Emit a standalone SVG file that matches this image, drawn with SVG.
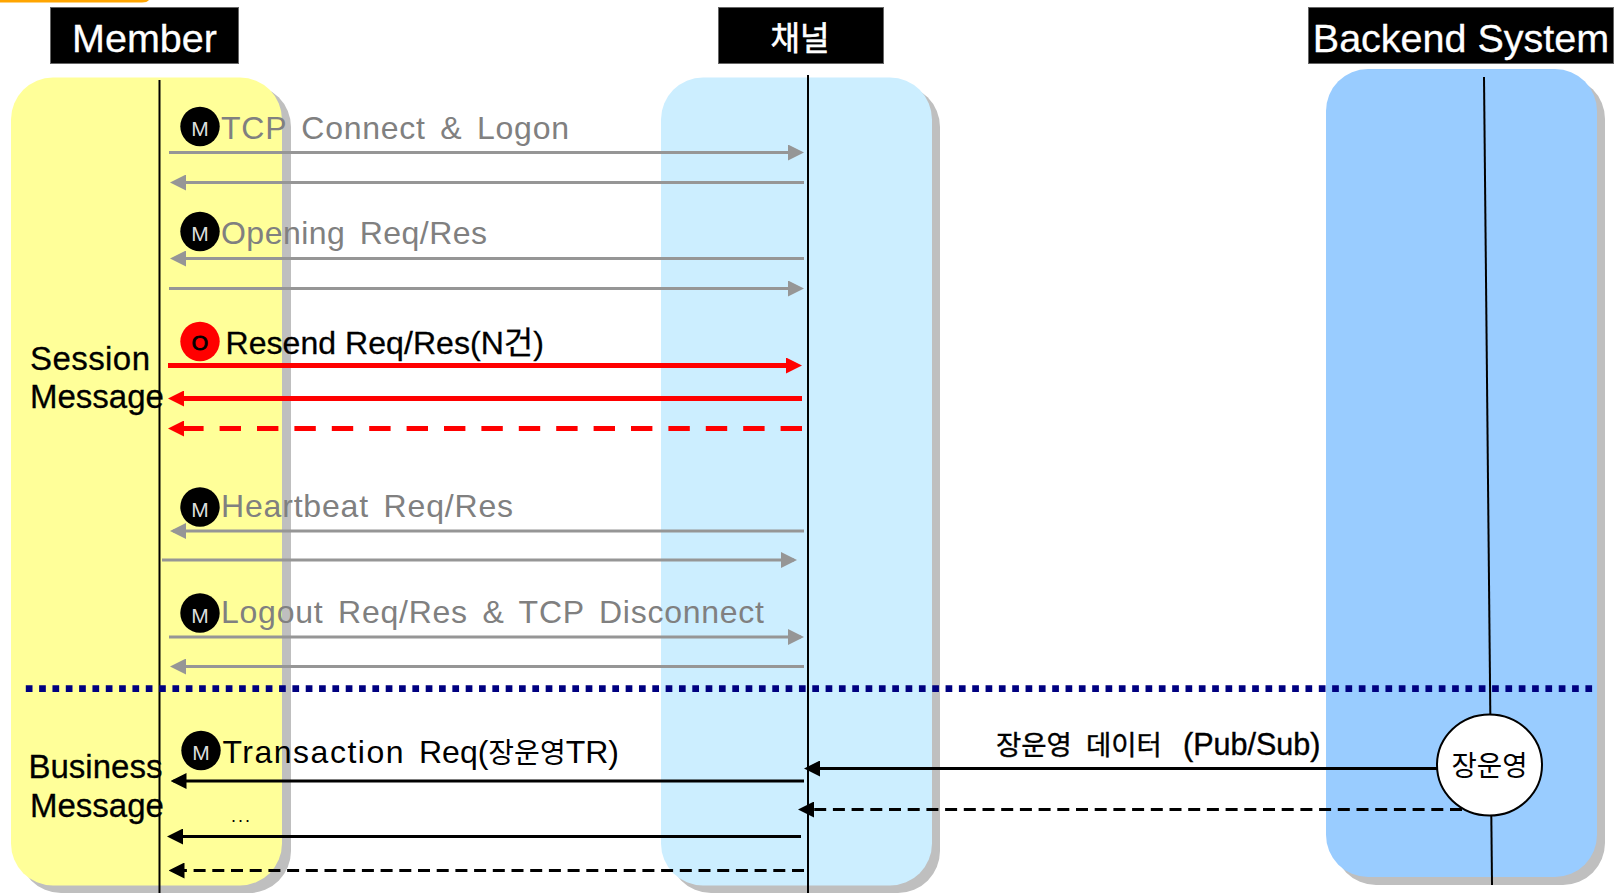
<svg xmlns="http://www.w3.org/2000/svg" width="1622" height="893" viewBox="0 0 1622 893">
<defs>
<marker id="ag" markerUnits="userSpaceOnUse" markerWidth="16" markerHeight="16" refX="13" refY="8" orient="auto"><path d="M0 0L16 8L0 16z" fill="#969696"/></marker>
<marker id="ak" markerUnits="userSpaceOnUse" markerWidth="16" markerHeight="16" refX="13" refY="8" orient="auto"><path d="M0 0L16 8L0 16z" fill="#000"/></marker>
<marker id="ar" markerUnits="userSpaceOnUse" markerWidth="16" markerHeight="16" refX="11" refY="8" orient="auto"><path d="M0 0L16 8L0 16z" fill="#f00"/></marker>
</defs>
<style>
text{font-family:"Liberation Sans","Noto Sans CJK KR",sans-serif}
.hd{fill:#000;stroke:#666;stroke-width:1}
.ht{fill:#fff;font-size:39.500px;text-anchor:middle;stroke:#fff;stroke-width:.3px}
.sh{fill:#bfbfbf}
.gl{stroke:#969696;stroke-width:3;fill:none;marker-end:url(#ag)}
.kl{stroke:#000;stroke-width:3;fill:none;marker-end:url(#ak)}
.rl{stroke:#f00;stroke-width:5;fill:none;marker-end:url(#ar)}
.ll{stroke:#000;stroke-width:2;fill:none}
.gt{fill:#808080;font-size:32px;word-spacing:5px}
.kt{fill:#000;font-size:32px}
.lb{fill:#000;font-size:33px;stroke:#000;stroke-width:.3px}
.mt{fill:#ddd;font-size:21px;text-anchor:middle}
</style>
<path d="M0 0V2.500H142Q147 2.500 149 0z" fill="#ffa500"/>

<g id="panel-member"><rect class="sh" x="19" y="85" width="272" height="808" rx="42"/><rect x="11" y="77.500" width="271" height="808" rx="42" fill="#ffff99"/></g>
<g id="panel-channel"><rect class="sh" x="669" y="85" width="271" height="808" rx="42"/><rect x="661" y="77.500" width="271" height="808" rx="42" fill="#cceeff"/></g>
<g id="panel-backend"><rect class="sh" x="1334" y="77" width="271" height="808" rx="42"/><rect x="1326" y="69" width="271" height="808" rx="42" fill="#99ccff"/></g>

<g id="head-member"><rect class="hd" x="50.500" y="7.500" width="188" height="56"/><text class="ht" x="144.500" y="52">Member</text></g>
<g id="head-channel"><rect class="hd" x="718.500" y="7.500" width="165" height="56"/><text class="ht" x="800" y="50" style="font-size:33px;stroke-width:.6px" textLength="59" lengthAdjust="spacingAndGlyphs">채널</text></g>
<g id="head-backend"><rect class="hd" x="1308.500" y="7.500" width="305" height="56"/><text class="ht" x="1461" y="52">Backend System</text></g>

<g id="lifelines">
<line class="ll" x1="159.500" y1="80" x2="159.500" y2="893"/>
<line class="ll" x1="808" y1="75" x2="808" y2="893" stroke-width="2.500"/>
<line class="ll" x1="1484" y1="77" x2="1492" y2="885"/>
</g>

<g id="connectors">
<line class="gl" x1="169" y1="152.500" x2="801" y2="152.500"/>
<line class="gl" x1="804" y1="182.500" x2="173" y2="182.500"/>
<line class="gl" x1="804" y1="258.500" x2="173" y2="258.500"/>
<line class="gl" x1="169" y1="288.500" x2="801" y2="288.500"/>
<line class="rl" x1="168" y1="365.500" x2="797" y2="365.500"/>
<line class="rl" x1="802" y1="398.500" x2="173" y2="398.500"/>
<line class="rl" x1="802" y1="428.500" x2="173" y2="428.500" stroke-dasharray="21.400 16"/>
<line class="gl" x1="804" y1="531" x2="173" y2="531"/>
<line class="gl" x1="162" y1="560" x2="794" y2="560"/>
<line class="gl" x1="169" y1="637" x2="801" y2="637"/>
<line class="gl" x1="804" y1="666.500" x2="173" y2="666.500"/>
<line x1="25.800" y1="688.700" x2="1593" y2="688.700" stroke="#000080" stroke-width="6.700" stroke-dasharray="6.700 6.630"/>
<line class="kl" x1="804" y1="781" x2="173.500" y2="781"/>
<line class="kl" x1="801" y1="836.500" x2="170" y2="836.500"/>
<line class="kl" x1="804" y1="870.500" x2="171.500" y2="870.500" stroke-dasharray="12 6.700"/>
<line class="kl" x1="1437" y1="768.500" x2="807" y2="768.500"/>
<line class="kl" x1="1462" y1="809.500" x2="801" y2="809.500" stroke-dasharray="12 6.700"/>
</g>

<g id="msg-tcp"><circle cx="200" cy="126.500" r="19.700"/><text class="mt" x="200" y="136">M</text><text class="gt" x="221" y="139" textLength="348" lengthAdjust="spacing">TCP Connect &amp; Logon</text></g>
<g id="msg-opening"><circle cx="200" cy="231.500" r="19.700"/><text class="mt" x="200" y="241">M</text><text class="gt" x="221" y="244" textLength="266" lengthAdjust="spacing">Opening Req/Res</text></g>
<g id="msg-resend"><circle cx="200" cy="341.500" r="19.700" fill="#f00"/><text x="200" y="350" font-size="21" text-anchor="middle" fill="#000" stroke="#000" stroke-width="1">O</text><text class="kt" x="225.500" y="354" textLength="318.500" lengthAdjust="spacing" stroke="#000" stroke-width="0.300">Resend Req/Res(N건)</text></g>
<g id="msg-heartbeat"><circle cx="200" cy="507" r="19.700"/><text class="mt" x="200" y="516.500">M</text><text class="gt" x="221" y="517" textLength="292" lengthAdjust="spacing">Heartbeat Req/Res</text></g>
<g id="msg-logout"><circle cx="200" cy="613" r="19.700"/><text class="mt" x="200" y="622.500">M</text><text class="gt" x="221" y="623" textLength="543" lengthAdjust="spacing">Logout Req/Res &amp; TCP Disconnect</text></g>
<g id="msg-transaction"><circle cx="201" cy="750.500" r="19.700"/><text class="mt" x="201" y="760">M</text><text class="kt" y="763"><tspan x="222.500" letter-spacing="1.500">Transaction</tspan><tspan x="419">Req(</tspan><tspan font-size="28">장운영</tspan>TR)</text></g>
<text x="231" y="822" font-size="18" fill="#000" textLength="19" lengthAdjust="spacing">...</text>

<g id="label-session"><text class="lb" x="30" y="370" textLength="120">Session</text><text class="lb" x="30" y="408">Message</text></g>
<g id="label-business"><text class="lb" x="28.500" y="778">Business</text><text class="lb" x="30" y="817">Message</text></g>
<text y="755" fill="#000" stroke="#000" stroke-width="0.400" font-size="27.500"><tspan x="996">장운영</tspan><tspan x="1086">데이터</tspan><tspan x="1183" font-size="30.500">(Pub/Sub)</tspan></text>

<g id="node-jangwoonyoung"><ellipse cx="1489.500" cy="765" rx="52.500" ry="50.500" fill="#fff" stroke="#000" stroke-width="2"/><text x="1489.500" y="776" font-size="28" text-anchor="middle" fill="#000" textLength="76" lengthAdjust="spacingAndGlyphs">장운영</text></g>
</svg>
